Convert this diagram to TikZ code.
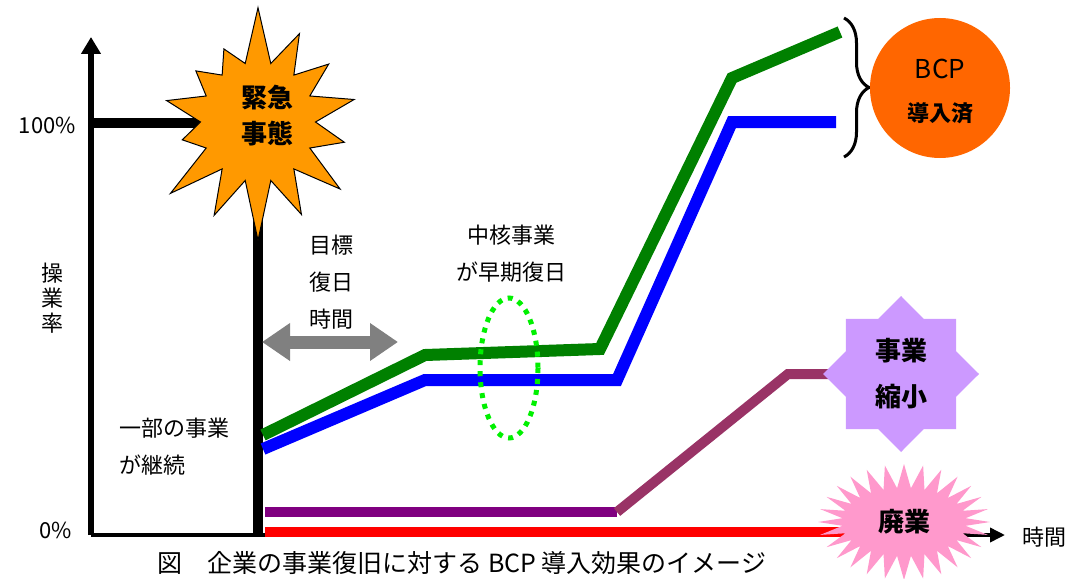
\documentclass[tikz,border=0pt]{standalone}
\usepackage{fontspec}
\setmainfont{Noto Sans CJK JP}
\usetikzlibrary{shapes.geometric,shapes.symbols,decorations.pathreplacing,arrows.meta}

\definecolor{burstorange}{RGB}{255,153,0}
\definecolor{bcporange}{RGB}{255,102,0}
\definecolor{shrinklilac}{RGB}{204,153,255}
\definecolor{closepink}{RGB}{255,153,204}
\definecolor{bcpgreen}{RGB}{0,128,0}
\definecolor{shrinkplum}{RGB}{153,51,102}
\definecolor{corepurple}{RGB}{128,0,128}
\definecolor{dotgreen}{RGB}{0,240,0}
\definecolor{spangray}{RGB}{128,128,128}

\begin{document}
\begin{tikzpicture}[x=1pt,y=-1pt,
  lbl/.style={font=\fontsize{22}{37}\selectfont, align=center, inner sep=0pt},
  boldlbl/.style={font=\fontsize{26}{36}\selectfont\bfseries, align=center},
  series/.style={line width=12pt, line join=miter}]
  \useasboundingbox (0,0) rectangle (1078,578);

  % axes
  \coordinate (origin) at (91,535);
  \coordinate (ytop) at (91,37);
  \coordinate (xend) at (1005,535);
  \draw[line width=6pt, -{Triangle[length=17pt,width=19pt]}] (origin) -- (ytop);
  \draw[line width=3.5pt, -{Triangle[length=15pt,width=14pt]}] (origin) -- (xend);
  \node[lbl, anchor=east] (full) at (76,125) {100\%};
  \node[lbl, anchor=east] (zero) at (72,530) {0\%};
  \node[lbl, font=\fontsize{22}{25}\selectfont] (rate) at (52,298) {操\\業\\率};
  \node[lbl, right=0pt] (timelbl) at (1022,537) {時間};

  % operation before the emergency and the drop
  \coordinate (fullL) at (91,123);
  \draw[line width=10pt] (fullL) -- (258,123) -- (258,537);
  \node[lbl, align=left, anchor=west] (partly) at (119,447) {一部の事業\\が継続};

  % recovery lines
  \draw[series, red, line width=10pt] (265,532) -- (850,532);
  \draw[series, corepurple, line width=10pt] (265,512) -- (617,512);
  \draw[series, shrinkplum, line width=10pt] (617,512) -- (788,374) -- (845,374);
  \draw[series, blue] (263,449) -- (425,380) -- (617,380) -- (732,122) -- (836,122);
  \draw[series, bcpgreen] (263,435) -- (425,355) -- (600,349) -- (732,78) -- (840,32);

  % target recovery time
  \coordinate (spanL) at (262,342);
  \coordinate (spanR) at (398,342);
  \draw[spangray, line width=13pt, {Triangle[length=28pt,width=36pt]}-{Triangle[length=28pt,width=36pt]}] (spanL) -- (spanR);
  \node[lbl] (target) at (331,282) {目標\\復日\\時間};

  % core business
  \draw[dotgreen, line width=5pt, dash pattern=on 5pt off 6pt] (509,368) ellipse [x radius=29, y radius=70];
  \node[lbl] (core) at (511,254) {中核事業\\が早期復日};

  % emergency
  \node[starburst, starburst points=14, starburst point height=60pt, random starburst=7,
        fill=burstorange, draw=black, line width=1pt, minimum width=235pt, minimum height=240pt,
        boldlbl] (crisis) at (258,122) {};
  \node[boldlbl] at (267,116) {緊急\\事態};

  % BCP introduced
  \coordinate (braceT) at (844,18);
  \coordinate (braceB) at (844,157);
  \draw[line width=3pt, decorate, decoration={brace, amplitude=25pt}] (braceT) -- (braceB);
  \node[circle, fill=bcporange, minimum size=140pt, inner sep=0pt] (bcp) at (940,88) {};
  \node[font=\fontsize{26}{30}\selectfont] at (940,69) {BCP};
  \node[font=\fontsize{22}{26}\selectfont\bfseries] at (940,113) {導入済};

  % shrink
  \node[star, star points=8, star point ratio=1.31, minimum size=156pt, fill=shrinklilac,
        inner sep=0pt, boldlbl, font=\fontsize{26}{46}\selectfont\bfseries] (shrink) at (901,374) {事業\\縮小};

  % closing
  \node[starburst, starburst points=28, starburst point height=24pt, random starburst=0,
        fill=closepink, minimum width=172pt, minimum height=116pt, boldlbl] (closed) at (904,522) {廃業};

  % caption
  \node[font=\fontsize{25}{28}\selectfont] (caption) at (462,563) {図　企業の事業復旧に対する BCP 導入効果のイメージ};
\end{tikzpicture}
\end{document}
